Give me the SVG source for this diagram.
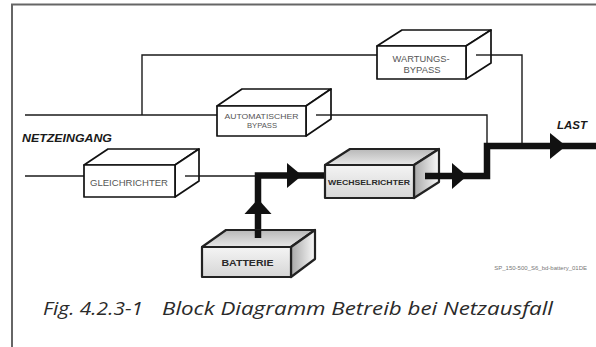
<svg xmlns="http://www.w3.org/2000/svg" width="596" height="347" viewBox="0 0 596 347">
  <defs>
    <linearGradient id="gFront" x1="0" y1="0" x2="0" y2="1">
      <stop offset="0" stop-color="#f4f4f4"/>
      <stop offset="1" stop-color="#d6d6d6"/>
    </linearGradient>
    <linearGradient id="gTop" x1="0" y1="0" x2="0" y2="1">
      <stop offset="0" stop-color="#b8b8b8"/>
      <stop offset="1" stop-color="#e8e8e8"/>
    </linearGradient>
    <linearGradient id="gSide" x1="0" y1="0" x2="1" y2="0">
      <stop offset="0" stop-color="#a8a8a8"/>
      <stop offset="1" stop-color="#f8f8f8"/>
    </linearGradient>
  </defs>
  <style>
    .frame { fill: none; stroke: #666; stroke-width: 2; }
    .plain { fill: #fff; stroke: #111; stroke-width: 1.7; stroke-linejoin: round; }
    .shaded { stroke: #222; stroke-width: 2.2; stroke-linejoin: round; }
    .wire { fill: none; stroke: #1a1a1a; stroke-width: 1.4; }
    .power { fill: none; stroke: #111; stroke-width: 6.5; stroke-linejoin: miter; }
    .head { fill: #111; }
    .lbl { font-family: "Liberation Sans", Arial, sans-serif; fill: #555; text-anchor: middle; }
    .lblb { font-family: "Liberation Sans", Arial, sans-serif; font-weight: bold; fill: #2a2a2a; text-anchor: middle; }
    .side-title { font-family: "Liberation Sans", Arial, sans-serif; font-weight: bold; font-style: italic; fill: #1a1a1a; }
    .ref { font-family: "Liberation Sans", Arial, sans-serif; font-size: 6px; fill: #777; text-anchor: end; }
    .caption { font-family: "Open Sans", "Noto Sans", sans-serif; font-style: italic; font-size: 18.5px; fill: #2a2a2a; }
  </style>

  <!-- page frame -->
  <path class="frame" d="M12,347 V4.5 H596"/>

  <!-- connectors -->
  <g id="connectors">
    <path class="wire" d="M25,115 H217"/>
    <path class="wire" d="M142,115 V55 H377"/>
    <path class="wire" d="M477,55 H522 V143"/>
    <path class="wire" d="M316,115 H487 V143"/>
    <path class="wire" d="M25,176 H84"/>
    <path class="wire" d="M185,176 H258"/>
    <!-- battery power path -->
    <path class="power" d="M258,238 V175.5 H326"/>
    <polygon class="head" points="258,199 244.5,214 271.5,214"/>
    <polygon class="head" points="302,175.5 287,163 287,188"/>
    <!-- inverter output to load -->
    <path class="power" d="M425,176 H487 V146 H596"/>
    <polygon class="head" points="467,176 452,163 452,189"/>
    <polygon class="head" points="566,146 550,133 550,159"/>
  </g>

  <!-- maintenance bypass -->
  <g id="wartungs-bypass">
    <polygon class="plain" points="377,46 402,30 491,30 466,46"/>
    <polygon class="plain" points="466,46 491,30 491,63 466,79"/>
    <rect class="plain" x="377" y="46" width="89" height="33"/>
    <path class="wire" d="M476,55 H491"/>
    <text class="lbl" x="421" y="62" font-size="8.8" textLength="57" lengthAdjust="spacingAndGlyphs">WARTUNGS-</text>
    <text class="lbl" x="422" y="72.5" font-size="8.8" textLength="37" lengthAdjust="spacingAndGlyphs">BYPASS</text>
  </g>

  <!-- automatic bypass -->
  <g id="automatischer-bypass">
    <polygon class="plain" points="217,106 242,89 331,89 306,106"/>
    <polygon class="plain" points="306,106 331,89 331,119 306,136"/>
    <rect class="plain" x="217" y="106" width="89" height="30"/>
    <path class="wire" d="M316,115 H331"/>
    <text class="lbl" x="261.5" y="118.5" font-size="8" textLength="74" lengthAdjust="spacingAndGlyphs">AUTOMATISCHER</text>
    <text class="lbl" x="262" y="128" font-size="8" textLength="30" lengthAdjust="spacingAndGlyphs">BYPASS</text>
  </g>

  <!-- rectifier -->
  <g id="gleichrichter">
    <polygon class="plain" points="84,165 108,149 199,149 175,165"/>
    <polygon class="plain" points="175,165 199,149 199,181 175,197"/>
    <rect class="plain" x="84" y="165" width="91" height="32"/>
    <path class="wire" d="M185,176 H199"/>
    <text class="lbl" x="129" y="185.5" font-size="8.5" textLength="78" lengthAdjust="spacingAndGlyphs">GLEICHRICHTER</text>
  </g>

  <!-- inverter -->
  <g id="wechselrichter">
    <polygon class="shaded" fill="url(#gTop)" points="325,165 350,149 439,149 414,165"/>
    <polygon class="shaded" fill="url(#gSide)" points="414,165 439,149 439,182 414,198"/>
    <rect class="shaded" fill="url(#gFront)" x="325" y="165" width="89" height="33"/>
    <path class="power" d="M425,176 H440"/>
    <text class="lblb" x="369" y="185" font-size="7.8" textLength="82" lengthAdjust="spacingAndGlyphs">WECHSELRICHTER</text>
  </g>

  <!-- battery -->
  <g id="batterie">
    <polygon class="shaded" fill="url(#gTop)" points="202,247 226,230 315,230 291,247"/>
    <polygon class="shaded" fill="url(#gSide)" points="291,247 315,230 315,259 291,277"/>
    <rect class="shaded" fill="url(#gFront)" x="202" y="247" width="89" height="30"/>
    <path class="power" d="M258,238 V230"/>
    <text class="lblb" x="247.5" y="265.5" font-size="9" textLength="52" lengthAdjust="spacingAndGlyphs">BATTERIE</text>
  </g>

  <!-- side labels -->
  <text class="side-title" x="22" y="142.3" font-size="11.5" textLength="90" lengthAdjust="spacingAndGlyphs">NETZEINGANG</text>
  <text class="side-title" x="557" y="129.3" font-size="11.5">LAST</text>

  <text class="ref" x="587" y="270">SP_150-500_S6_bd-battery_01DE</text>

  <text class="caption" x="43" y="314.5" textLength="100" lengthAdjust="spacingAndGlyphs">Fig. 4.2.3-1</text>
  <text class="caption" x="162" y="314.5" textLength="391" lengthAdjust="spacingAndGlyphs">Block Diagramm Betreib bei Netzausfall</text>
</svg>
